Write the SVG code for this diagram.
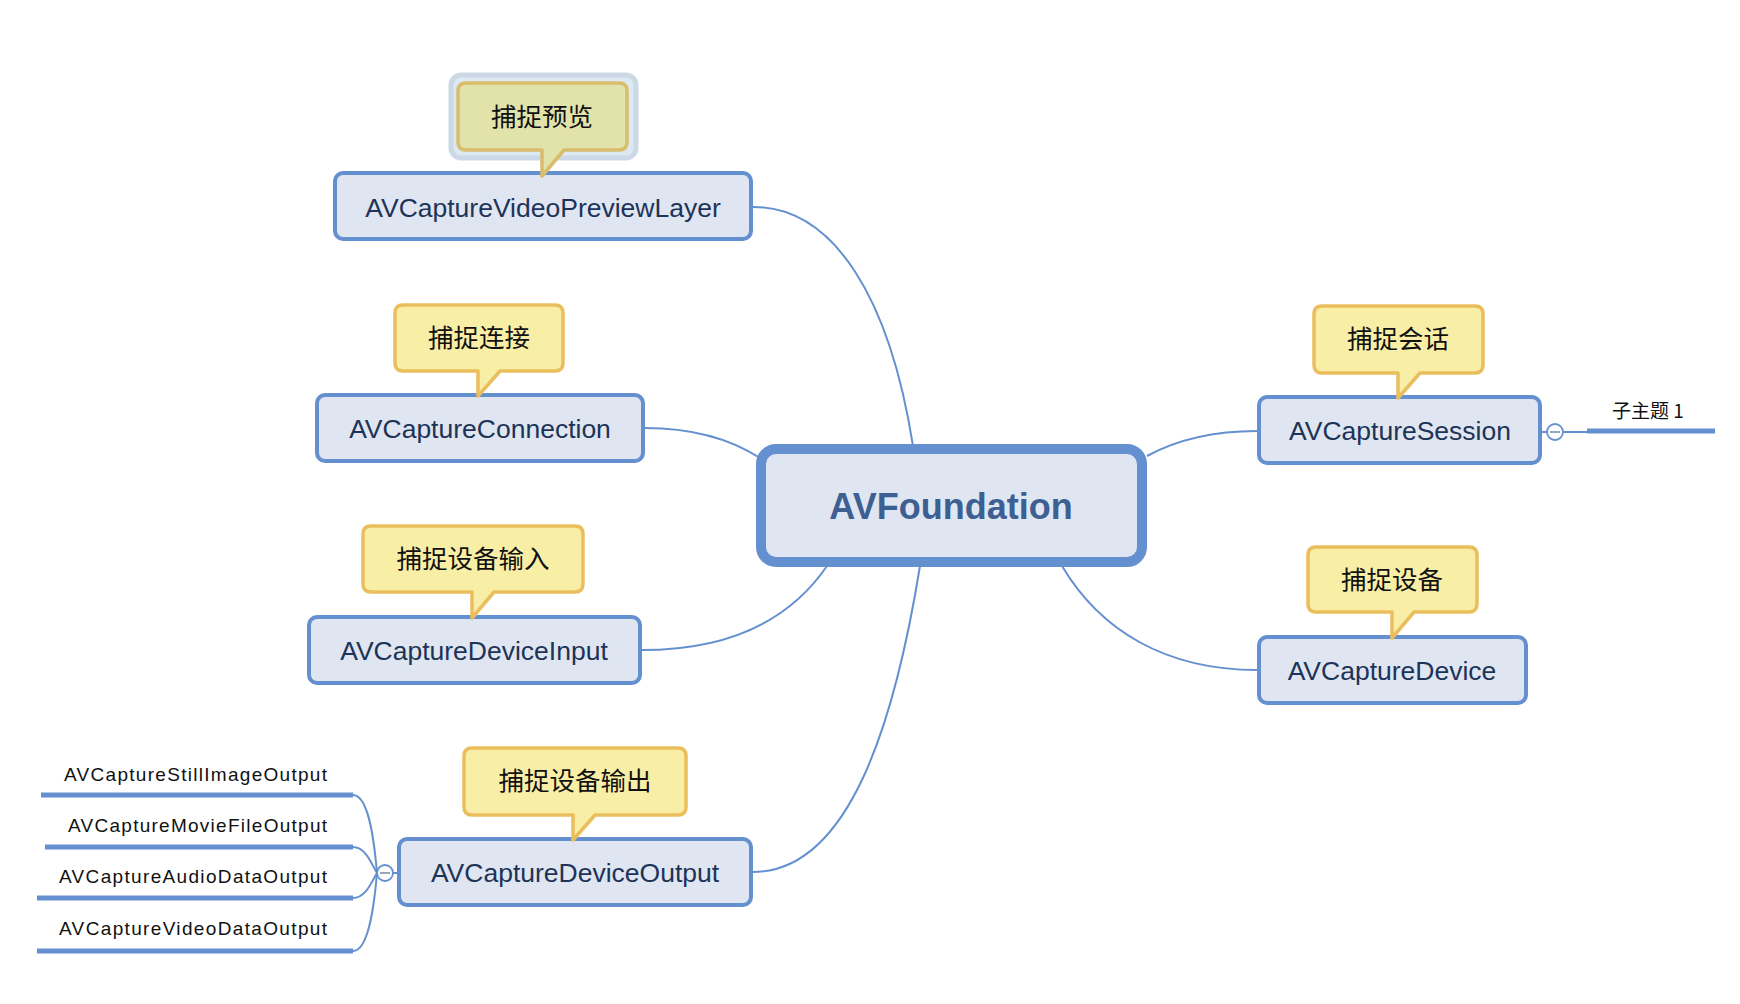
<svg xmlns="http://www.w3.org/2000/svg" width="1740" height="1004" viewBox="0 0 1740 1004">
<style>
.node{fill:#dfe6f1;stroke:#6590cf;stroke-width:4}
.nt{font-family:"Liberation Sans",Arial,sans-serif;font-size:26.5px;fill:#1d3357;text-anchor:middle}
.call{fill:#f9eea6;stroke:#ebbe5d;stroke-width:3.5;stroke-linejoin:round}
.ct{font-family:"Noto Sans CJK SC","Noto Sans",sans-serif;font-size:25.5px;fill:#111;text-anchor:middle}
.conn{fill:none;stroke:#6590cf;stroke-width:2}
.sub{fill:none;stroke:#6590cf;stroke-width:5}
.st{font-family:"Liberation Sans",Arial,sans-serif;font-size:19px;fill:#111;text-anchor:end}
.fold{fill:#fff;stroke:#6590cf;stroke-width:1.8}
.minus{stroke:#8a9bb5;stroke-width:1.8}
</style>
<rect width="1740" height="1004" fill="#fff"/>
<g id="connectors">
<path class="conn" d="M753,207 C835,207 890,300 913,446"/>
<path class="conn" d="M645,428 C700,428 735,442 760,458"/>
<path class="conn" d="M642,650 C730,650 790,620 827,566"/>
<path class="conn" d="M753,872 C850,872 895,720 920,566"/>
<path class="conn" d="M1147,456 C1180,438 1215,431 1257,431"/>
<path class="conn" d="M1062,566 C1100,630 1165,670 1257,670"/>
<path class="conn" d="M1542,432 H1547 M1563,432 H1590"/>
<path class="conn" d="M393,873 H397"/>
<path class="conn" d="M353,795 C370,795 375,850 377,873"/>
<path class="conn" d="M353,847 C366,847 372,865 377,873"/>
<path class="conn" d="M353,898 C366,898 372,881 377,873"/>
<path class="conn" d="M353,951 C370,951 375,896 377,873"/>
</g>
<g id="center">
<rect x="761" y="449" width="381" height="113" rx="15" fill="#dfe6f1" stroke="#6590cf" stroke-width="10"/>
<text x="951" y="519" font-family="'Liberation Sans',Arial,sans-serif" font-size="36" font-weight="bold" fill="#3d5f91" text-anchor="middle">AVFoundation</text>
</g>
<g id="node-preview">
<rect class="node" x="335" y="173" width="416" height="66" rx="8"/>
<text class="nt" x="543" y="217">AVCaptureVideoPreviewLayer</text>
<rect x="451" y="75" width="185" height="83" rx="10" fill="#dde9f0" stroke="#cbd8e6" stroke-width="5"/>
<path class="call" style="fill:#e2e3ab;stroke:#d9bc6c" d="M466,83 H619 Q627,83 627,91 V142 Q627,150 619,150 H564 L542,176 L542,150 H466 Q458,150 458,142 V91 Q458,83 466,83 Z"/>
<text class="ct" x="542" y="126">捕捉预览</text>
</g>
<g id="node-connection">
<rect class="node" x="317" y="395" width="326" height="66" rx="8"/>
<text class="nt" x="480" y="438">AVCaptureConnection</text>
<path class="call" d="M403,305 H555 Q563,305 563,313 V363 Q563,371 555,371 H500 L478,396 L478,371 H403 Q395,371 395,363 V313 Q395,305 403,305 Z"/>
<text class="ct" x="479" y="347">捕捉连接</text>
</g>
<g id="node-input">
<rect class="node" x="309" y="617" width="331" height="66" rx="8"/>
<text class="nt" x="474" y="660">AVCaptureDeviceInput</text>
<path class="call" d="M371,526 H575 Q583,526 583,534 V584 Q583,592 575,592 H494 L472,618 L472,592 H371 Q363,592 363,584 V534 Q363,526 371,526 Z"/>
<text class="ct" x="473" y="568">捕捉设备输入</text>
</g>
<g id="node-output">
<rect class="node" x="399" y="839" width="352" height="66" rx="8"/>
<text class="nt" x="575" y="882">AVCaptureDeviceOutput</text>
<path class="call" d="M472,748 H678 Q686,748 686,756 V807 Q686,815 678,815 H595 L573,840 L573,815 H472 Q464,815 464,807 V756 Q464,748 472,748 Z"/>
<text class="ct" x="575" y="790">捕捉设备输出</text>
<circle class="fold" cx="385" cy="873" r="8"/>
<path class="minus" d="M380,873 H390"/>
</g>
<g id="node-session">
<rect class="node" x="1259" y="397" width="281" height="66" rx="8"/>
<text class="nt" x="1400" y="440">AVCaptureSession</text>
<path class="call" d="M1322,306 H1475 Q1483,306 1483,314 V365 Q1483,373 1475,373 H1420 L1398,398 L1398,373 H1322 Q1314,373 1314,365 V314 Q1314,306 1322,306 Z"/>
<text class="ct" x="1398" y="348">捕捉会话</text>
<circle class="fold" cx="1555" cy="432" r="8"/>
<path class="minus" d="M1550,432 H1560"/>
</g>
<g id="node-device">
<rect class="node" x="1259" y="637" width="267" height="66" rx="8"/>
<text class="nt" x="1392" y="680">AVCaptureDevice</text>
<path class="call" d="M1316,547 H1469 Q1477,547 1477,555 V604 Q1477,612 1469,612 H1414 L1392,638 L1392,612 H1316 Q1308,612 1308,604 V555 Q1308,547 1316,547 Z"/>
<text class="ct" x="1392" y="589">捕捉设备</text>
</g>
<g id="sub-topic1">
<path class="sub" d="M1587,431 H1715"/>
<text x="1648" y="418" font-family="'Noto Sans CJK SC','Noto Sans',sans-serif" font-size="19" fill="#111" text-anchor="middle">子主题 1</text>
</g>
<g id="sub-still">
<path class="sub" d="M41,795 H353"/>
<text class="st" x="327" y="781" textLength="263" lengthAdjust="spacing">AVCaptureStillImageOutput</text>
</g>
<g id="sub-movie">
<path class="sub" d="M45,847 H353"/>
<text class="st" x="327" y="832" textLength="259" lengthAdjust="spacing">AVCaptureMovieFileOutput</text>
</g>
<g id="sub-audio">
<path class="sub" d="M37,898 H353"/>
<text class="st" x="327" y="883" textLength="268" lengthAdjust="spacing">AVCaptureAudioDataOutput</text>
</g>
<g id="sub-video">
<path class="sub" d="M37,951 H353"/>
<text class="st" x="327" y="935" textLength="268" lengthAdjust="spacing">AVCaptureVideoDataOutput</text>
</g>
</svg>
